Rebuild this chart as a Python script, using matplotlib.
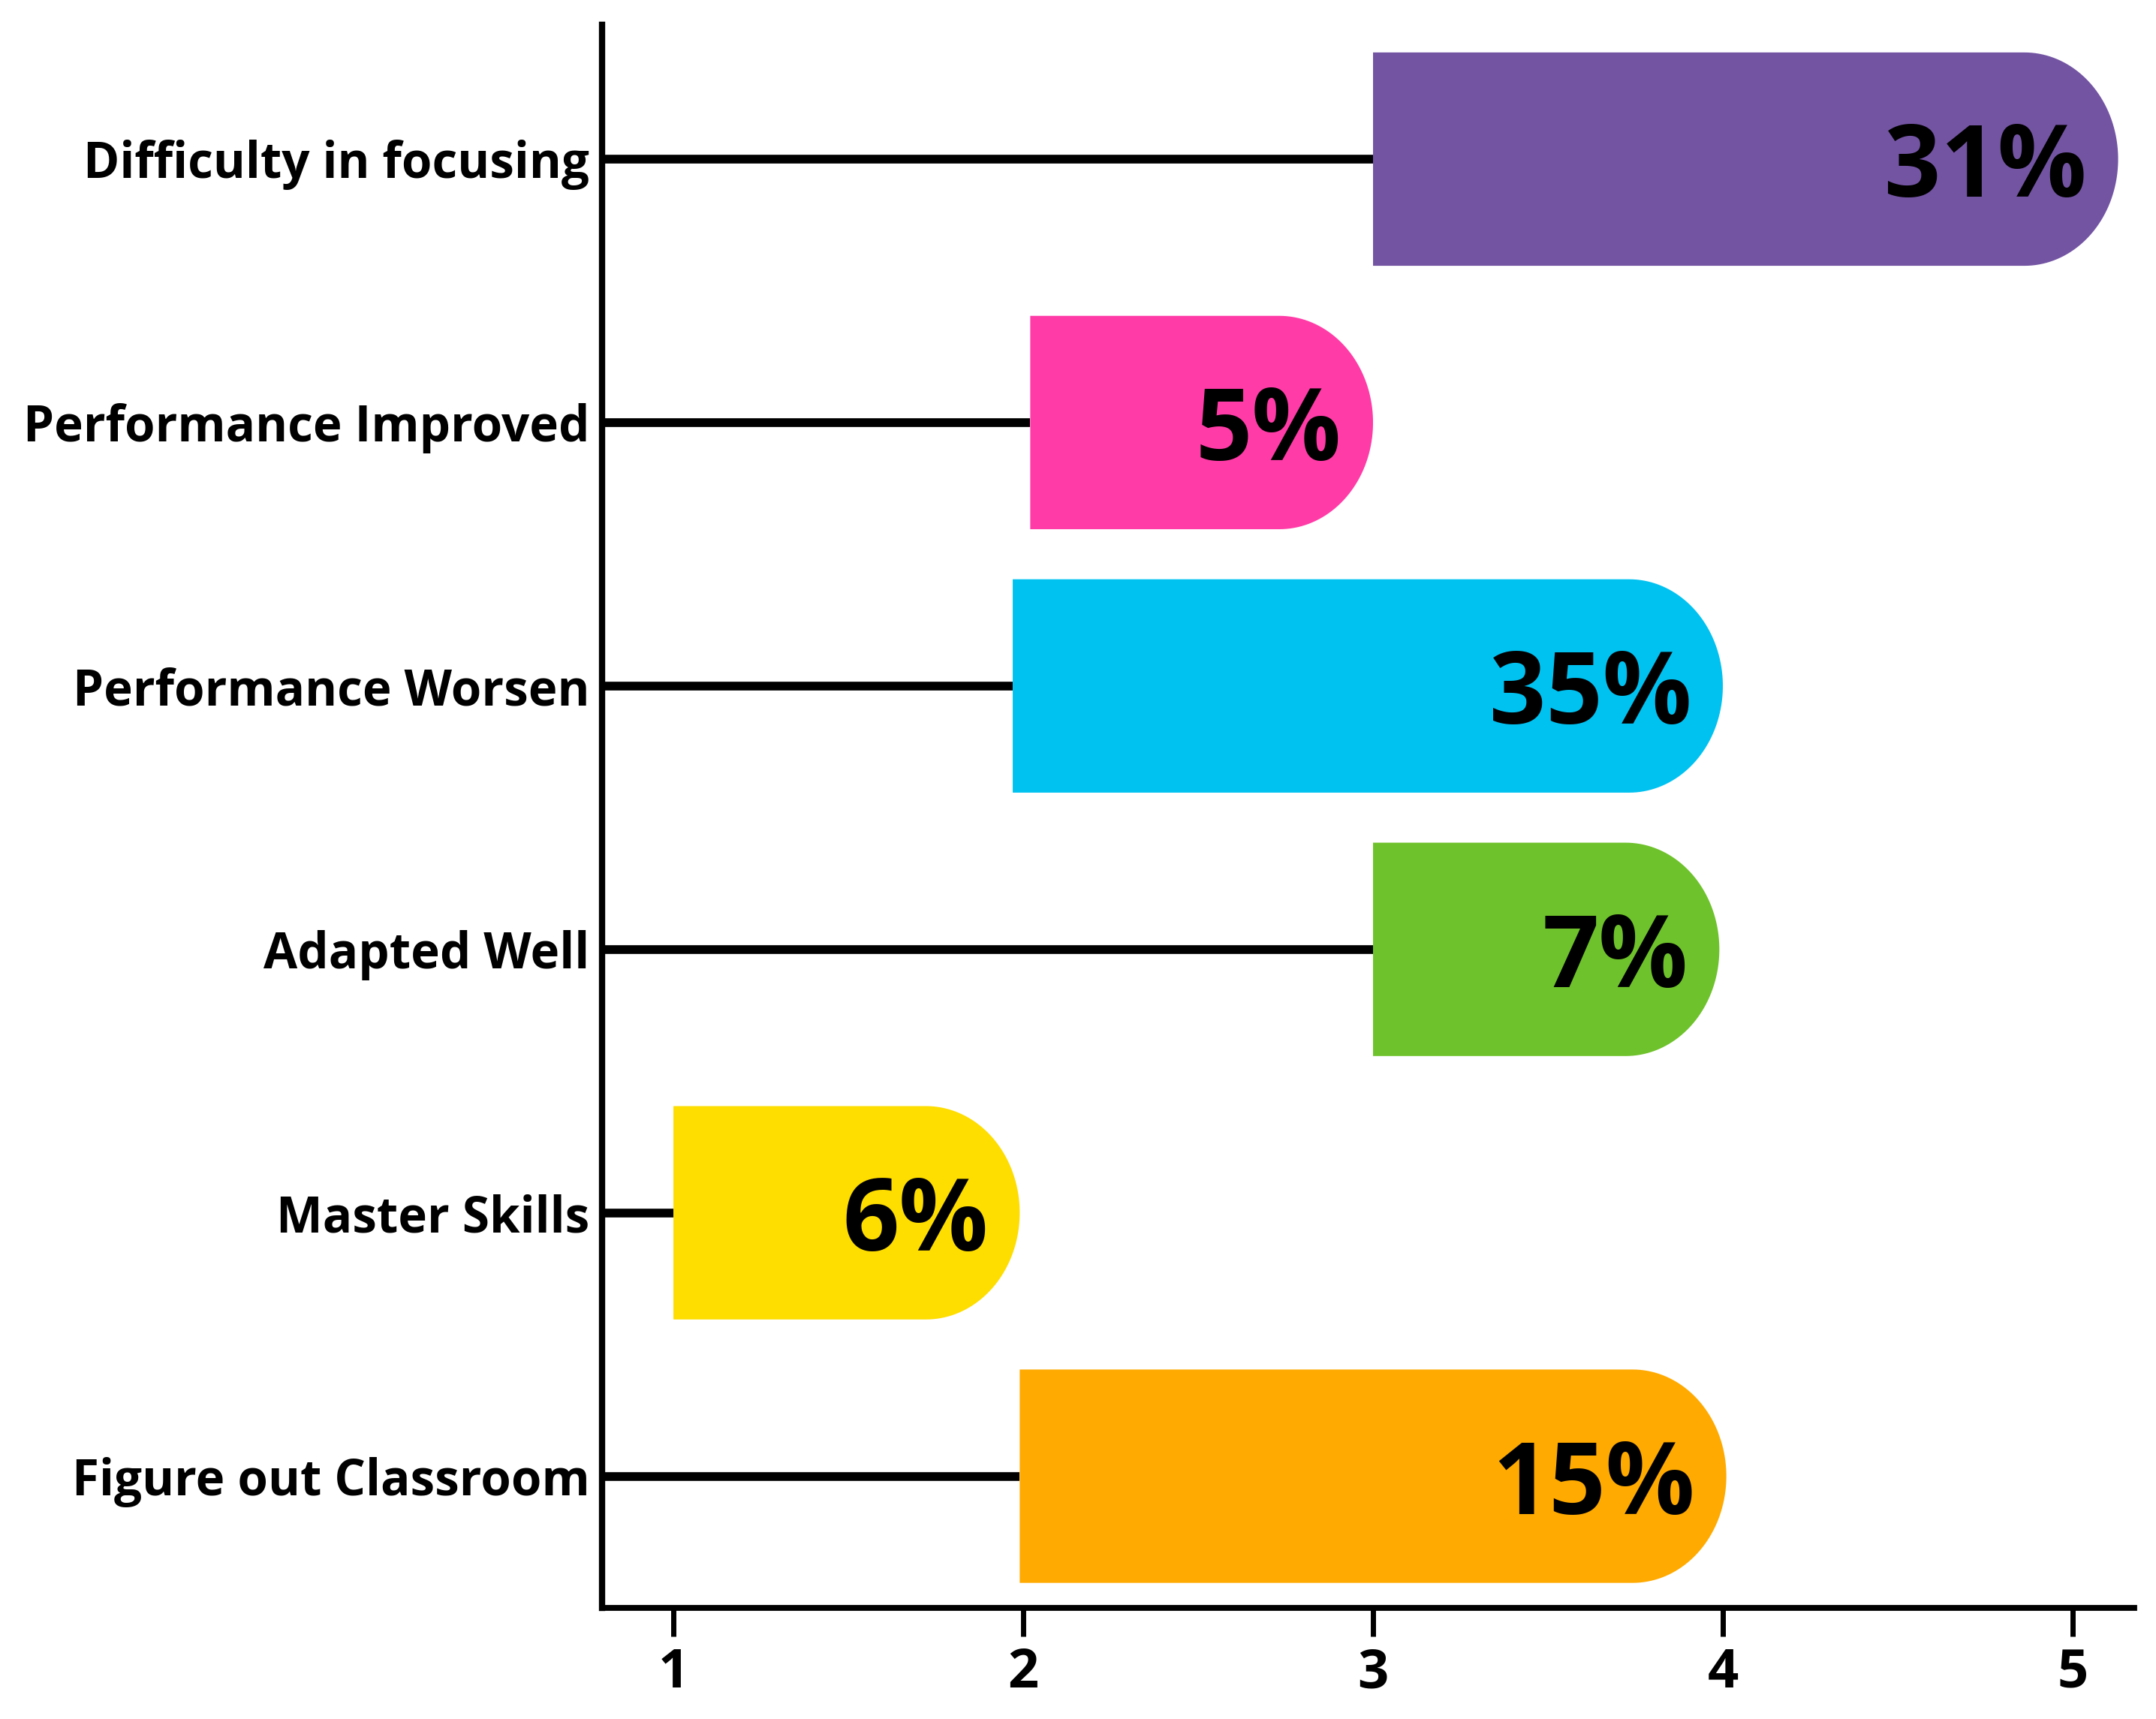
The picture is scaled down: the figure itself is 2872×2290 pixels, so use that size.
import numpy as np
import matplotlib
matplotlib.use("Agg")
import matplotlib.pyplot as plt
from matplotlib.patches import Polygon

# ---- data ----
categories = ["Difficulty in focusing", "Performance Improved", "Performance Worsen",
              "Adapted Well", "Master Skills", "Figure out Classroom"]
starts = [3.0, 2.02, 1.97, 3.0, 1.0, 1.99]
ends = [5.13, 3.0, 4.0, 3.99, 1.99, 4.01]
pct_labels = ["31%", "5%", "35%", "7%", "6%", "15%"]
colors = ["#7354A3", "#FF3BA7", "#00C2F1", "#6EC22B", "#FEDD00", "#FFAA00"]
xticks = [1, 2, 3, 4, 5]

plt.rcParams['font.family'] = ['Open Sans', 'DejaVu Sans']

W, H, DPI = 2872, 2290, 200
fig = plt.figure(figsize=(W / DPI, H / DPI), dpi=DPI)
ax = fig.add_axes([802 / W, 1 - 2142 / H, (2843 - 802) / W, (2142 - 33) / H])

xmin, xmax = 0.796, 5.176
ax.set_xlim(xmin, xmax)
ax.set_ylim(5.5, -0.51)

bar_h = 0.81
cap_r = 0.268
ys = np.arange(len(categories))

# whiskers from y-axis to bar start
ax.hlines(ys, xmin, starts, color="black", lw=4.2, zorder=1)

theta = np.linspace(-np.pi / 2, np.pi / 2, 80)
for y, s, e, c, lab in zip(ys, starts, ends, colors, pct_labels):
    cx = e - cap_r
    pts = [(s, y - bar_h / 2), (cx, y - bar_h / 2)]
    pts += [(cx + cap_r * np.cos(t), y + (bar_h / 2) * np.sin(t)) for t in theta]
    pts += [(s, y + bar_h / 2)]
    ax.add_patch(Polygon(pts, closed=True, facecolor=c, edgecolor="none", zorder=2))
    ax.text(e - 0.09, y, lab, ha="right", va="center_baseline", fontsize=47.5,
            fontweight="bold", color="black", zorder=3)

ax.set_yticks(ys)
ax.set_yticklabels(categories, fontsize=23.6, fontweight="bold")
ax.set_xticks(xticks)
ax.set_xticklabels([str(t) for t in xticks], fontsize=26, fontweight="bold")

ax.tick_params(axis="y", length=0, pad=6)
ax.tick_params(axis="x", length=13.5, width=2.5, pad=5, direction="out")

for side in ["top", "right"]:
    ax.spines[side].set_visible(False)
ax.spines["left"].set_linewidth(3.0)
ax.spines["bottom"].set_linewidth(2.8)

fig.savefig("out.png", dpi=DPI, facecolor="white")
